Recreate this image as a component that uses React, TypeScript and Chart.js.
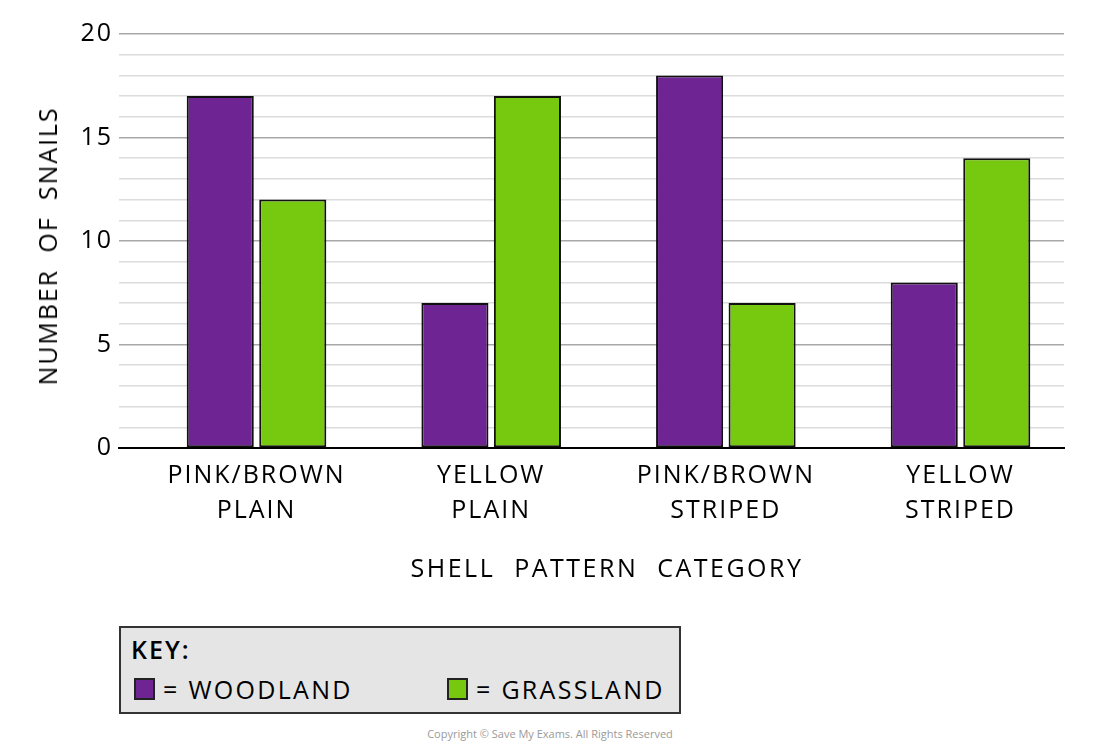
import React, { useEffect, useRef } from "react";
import { Chart, registerables } from "chart.js";

Chart.register(...registerables);

const categories: string[][] = [
  ["PINK/BROWN", "PLAIN"],
  ["YELLOW", "PLAIN"],
  ["PINK/BROWN", "STRIPED"],
  ["YELLOW", "STRIPED"],
];
const woodland = [17, 7, 18, 8];
const grassland = [12, 17, 7, 14];
const seriesNames = ["WOODLAND", "GRASSLAND"];
const seriesColors = ["#6f2494", "#77c90f"];
const yMajorTicks = [0, 5, 10, 15, 20];
const xTitle = "SHELL PATTERN CATEGORY";
const yTitle = "NUMBER OF SNAILS";

const FONT = "'Open Sans', 'DejaVu Sans', sans-serif";
const CANVAS_H = 600;

const spacingPlugin = {
  id: "letterSpacing",
  beforeUpdate(chart: any) {
    chart.ctx.letterSpacing = "2px";
  },
  beforeDraw(chart: any) {
    chart.ctx.letterSpacing = "2px";
  },
};

export default function App() {
  const ref = useRef<HTMLCanvasElement>(null);

  useEffect(() => {
    document.body.style.margin = "0";
    const canvas = ref.current;
    if (!canvas) return;
    const chart = new Chart(canvas, {
      type: "bar",
      plugins: [spacingPlugin],
      data: {
        datasets: [woodland, grassland].map((vals, si) => ({
          label: seriesNames[si],
          data: vals.map((v, i) => ({ x: i, y: v })),
          backgroundColor: seriesColors[si],
          borderColor: "#111",
          borderWidth: 2,
          borderSkipped: false,
          categoryPercentage: 0.618,
          barPercentage: 0.925,
        })),
      },
      options: {
        animation: false,
        responsive: false,
        maintainAspectRatio: false,
        layout: { padding: { left: 0, right: 36, top: 34, bottom: 0 } },
        plugins: {
          legend: { display: false },
          tooltip: { enabled: false },
        },
        scales: {
          x: {
            type: "linear",
            offset: false,
            min: -0.586,
            max: 3.441,
            afterFit: (s: any) => {
              s.height = CANVAS_H - 448;
            },
            ticks: {
              stepSize: 1,
              includeBounds: false,
              autoSkip: false,
              maxRotation: 0,
              minRotation: 0,
              padding: 10,
              color: "#000",
              font: { family: FONT, size: 25, lineHeight: 1.4 },
              callback: (v: any) =>
                Number.isInteger(v) && categories[v] ? categories[v] : "",
            },
            grid: { display: false, drawTicks: false },
            border: { display: true, color: "#000", width: 2 },
          },
          y: {
            min: 0,
            max: 20,
            afterFit: (s: any) => {
              s.width = 119;
            },
            ticks: {
              stepSize: 1,
              autoSkip: false,
              padding: 6,
              color: "#000",
              font: { family: FONT, size: 25 },
              callback: (v: any) => (yMajorTicks.includes(v) ? String(v) : ""),
            },
            grid: {
              drawTicks: false,
              color: (ctx: any) =>
                ctx.tick.value === 0
                  ? "rgba(0,0,0,0)"
                  : yMajorTicks.includes(ctx.tick.value)
                  ? "#a8a8a8"
                  : "#dcdcdc",
              lineWidth: 1.5,
            },
            border: { display: false },
          },
        },
      },
    });
    return () => chart.destroy();
  }, []);

  return (
    <div style={{ position: "relative", width: 1100, height: 745, fontFamily: FONT, background: "#fff" }}>
      <canvas ref={ref} width={1100} height={CANVAS_H} style={{ position: "absolute", left: 0, top: 0 }} />
      <div
        style={{
          position: "absolute",
          left: 47,
          top: 246,
          transform: "translate(-50%, -50%) rotate(-90deg)",
          fontSize: 25,
          letterSpacing: 1.9,
          wordSpacing: 8,
          whiteSpace: "nowrap",
          color: "#000",
        }}
      >
        {yTitle}
      </div>
      <div
        style={{
          position: "absolute",
          left: 607,
          top: 567,
          transform: "translate(-50%, -50%)",
          fontSize: 25,
          letterSpacing: 2.5,
          wordSpacing: 10,
          whiteSpace: "nowrap",
          color: "#000",
        }}
      >
        {xTitle}
      </div>
      <div
        style={{
          position: "absolute",
          left: 119,
          top: 626,
          width: 562,
          height: 88,
          boxSizing: "border-box",
          background: "#e5e5e5",
          border: "2px solid #333",
        }}
      >
        <div style={{ position: "absolute", left: 10, top: 6, fontSize: 25, lineHeight: "30px", fontWeight: 600, letterSpacing: 2 }}>KEY:</div>
        {seriesNames.map((name, i) => (
          <React.Fragment key={name}>
            <div
              style={{
                position: "absolute",
                left: i === 0 ? 13 : 326,
                top: 50,
                width: 21,
                height: 22,
                boxSizing: "border-box",
                background: seriesColors[i],
                border: "2px solid #222",
              }}
            />
            <div
              style={{
                position: "absolute",
                left: i === 0 ? 42 : 355,
                top: 46,
                fontSize: 25,
                lineHeight: "30px",
                letterSpacing: 2.3,
                whiteSpace: "nowrap",
              }}
            >
              = {name}
            </div>
          </React.Fragment>
        ))}
      </div>
      <div
        style={{
          position: "absolute",
          left: 550,
          top: 733,
          transform: "translate(-50%, -50%)",
          fontSize: 11,
          color: "#9a9a9a",
          whiteSpace: "nowrap",
        }}
      >
        Copyright © Save My Exams. All Rights Reserved
      </div>
    </div>
  );
}
